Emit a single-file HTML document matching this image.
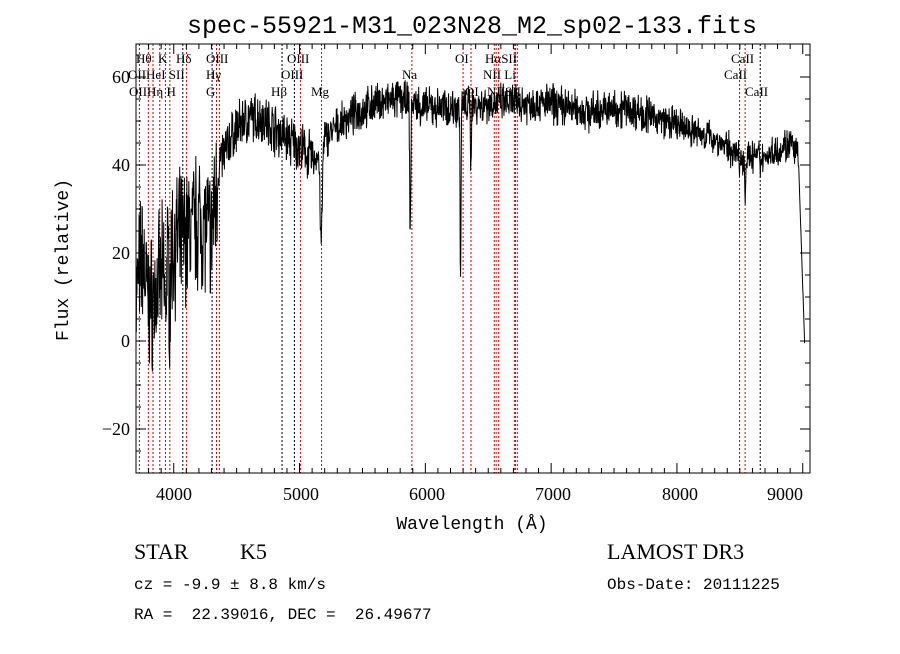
<!DOCTYPE html>
<html><head><meta charset="utf-8"><style>
body{margin:0;background:#fff;}
</style></head><body>
<svg id="s" width="900" height="649" xmlns="http://www.w3.org/2000/svg">
<rect width="900" height="649" fill="#fff"/>
<text x="472" y="33" font-size="25" text-anchor="middle" style="font-family:'Liberation Mono',monospace">spec-55921-M31_023N28_M2_sp02-133.fits</text>
<g id="lines"></g>
<g id="ticks" stroke="#000" stroke-width="1"></g>
<polyline id="spec" fill="none" stroke="#000" stroke-width="1"/>
<rect x="136" y="44" width="674" height="429" fill="none" stroke="#000" stroke-width="1"/>
<g font-size="18" style="font-family:'Liberation Serif',serif" text-anchor="middle">
<text x="174" y="500">4000</text><text x="301" y="500">5000</text><text x="427" y="500">6000</text><text x="553" y="500">7000</text><text x="680" y="500">8000</text><text x="785" y="500">9000</text>
</g>
<g font-size="18" style="font-family:'Liberation Serif',serif" text-anchor="end">
<text x="130" y="83">60</text><text x="130" y="171">40</text><text x="130" y="259">20</text><text x="130" y="347">0</text><text x="130" y="435">−20</text>
</g>
<text x="472" y="529" font-size="18" text-anchor="middle" style="font-family:'Liberation Mono',monospace">Wavelength (Å)</text>
<text transform="translate(68,260) rotate(-90)" font-size="18" text-anchor="middle" style="font-family:'Liberation Mono',monospace">Flux (relative)</text>
<g font-size="13" fill="#000" style="font-family:'Liberation Serif',serif">
<text x="136" y="63">Hθ</text><text x="158" y="63">K</text><text x="176" y="63">Hδ</text><text x="206" y="63">OIII</text><text x="287" y="63">OIII</text><text x="455" y="63">OI</text><text x="485" y="63">HαSII</text><text x="731" y="63">CaII</text>
<text x="128" y="79">OIIHeI SII</text><text x="206" y="79">Hγ</text><text x="281" y="79">OIII</text><text x="402" y="79">Na</text><text x="483" y="79">NII Li</text><text x="724" y="79">CaII</text>
<text x="129" y="96">OIIHη H</text><text x="206" y="96">G</text><text x="271" y="96">Hβ</text><text x="311" y="96">Mg</text><text x="465" y="96">OI</text><text x="487" y="96">NIISII</text><text x="745" y="96">CaII</text>
</g>
<g font-size="22" style="font-family:'Liberation Serif',serif">
<text x="134" y="559">STAR</text><text x="240" y="559">K5</text><text x="607" y="559">LAMOST DR3</text>
</g>
<g font-size="16" style="font-family:'Liberation Mono',monospace">
<text x="134" y="589">cz = -9.9 ± 8.8 km/s</text><text x="607" y="589">Obs-Date: 20111225</text>
<text x="134" y="619" xml:space="preserve">RA =  22.39016, DEC =  26.49677</text>
</g>
</svg>
<script>
var X=function(l){return 136+(l-3700)*0.1258},Y=function(f){return 341-f*4.4};
var NS="http://www.w3.org/2000/svg";
function el(p,t,a){var e=document.createElementNS(NS,t);for(var k in a)e.setAttribute(k,a[k]);p.appendChild(e);return e;}
var L=document.getElementById('lines');
[[3727,1],[3798,1],[3835,1],[3889,1],[3934,1],[3969,1],[4072,0],[4102,1],[4305,0],[4340,1],[4363,1],[4861,0],[4959,0],[5007,1],[5175,1],[5893,1],[6300,1],[6363,1],[6548,1],[6563,1],[6583,1],[6707,1],[6716,1],[6731,1],[8498,1],[8542,1],[8662,0]].forEach(function(a){
el(L,'line',{x1:X(a[0]),x2:X(a[0]),y1:44,y2:473,stroke:a[1]?'#c00':'#000','stroke-dasharray':'2,2','stroke-width':1});});
var T=document.getElementById('ticks');
for(var l=3800;l<=9000;l+=100){var x=X(l),h=(l%1000==0)?10:5;el(T,'line',{x1:x,x2:x,y1:473,y2:473-h});el(T,'line',{x1:x,x2:x,y1:44,y2:44+h});}
for(var f=-30;f<=65;f+=5){var y=Y(f),h=(f%20==0)?10:5;el(T,'line',{x1:136,x2:136+h,y1:y,y2:y});el(T,'line',{x1:810,x2:810-h,y1:y,y2:y});}
var K=[[3700,10],[3750,20],[3800,8],[3850,10],[3900,14],[4000,22],[4100,24],[4200,28],[4280,25],[4320,30],[4360,40],[4450,46],[4550,50],[4700,51],[4850,47],[5000,44],[5120,41],[5200,46],[5400,51],[5600,54],[5800,55],[6000,53],[6200,53],[6500,54],[7000,54],[7300,52],[7600,53],[8000,49],[8300,46],[8500,42],[8700,42],[8900,45],[8960,42]];
function base(l){for(var i=0;i<K.length-1;i++){if(l>=K[i][0]&&l<=K[i+1][0]){var t=(l-K[i][0])/(K[i+1][0]-K[i][0]);return K[i][1]+t*(K[i+1][1]-K[i][1]);}}return 42;}
var dips=[[5172,22,12],[5880,30,6],[6280,40,5],[6362,15,4],[8542,10,5],[8498,6,4],[8662,5,4],[3934,10,8],[3969,10,8],[4300,6,8]];
var seed=7;function r(){seed=(seed*16807)%2147483647;return seed/2147483647-0.5;}
var pts=[];
for(var l=3700;l<=9015;l+=2.5){var f=base(l);var amp=l<4350?24:(l<5100?9:(l<7800?7:6));f+=r()*amp+r()*amp*0.5;
dips.forEach(function(d){var z=(l-d[0])/d[2];f-=d[1]*Math.exp(-z*z);});
if(l>8965)f=42-(l-8965)*0.85;pts.push(X(l).toFixed(1)+','+Y(f).toFixed(1));}
document.getElementById('spec').setAttribute('points',pts.join(' '));
</script>
</body></html>
